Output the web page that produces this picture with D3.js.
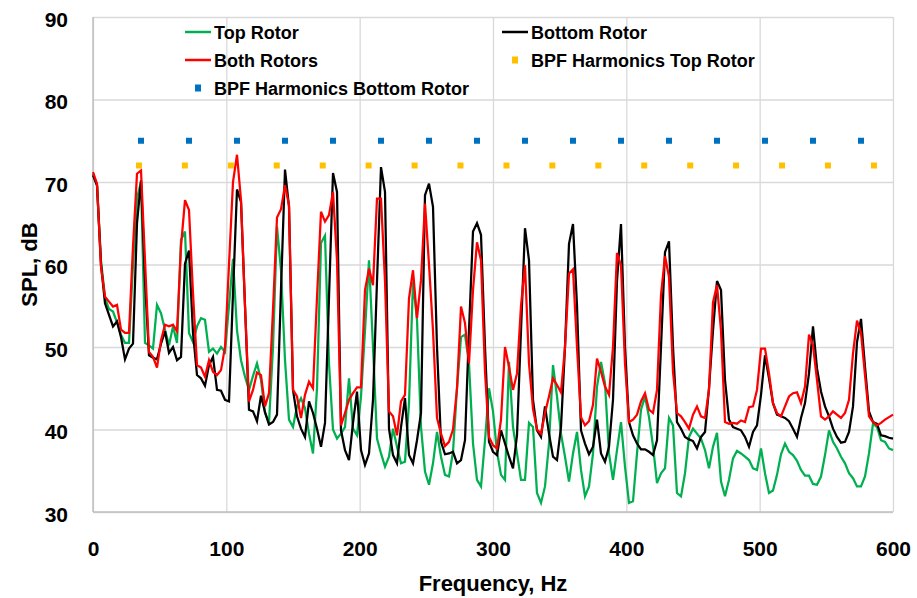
<!DOCTYPE html>
<html>
<head>
<meta charset="utf-8">
<script src="https://cdn.jsdelivr.net/npm/d3@7"></script>
<style>
  body { margin: 0; background: #fff; }
  text { font-family: 'Liberation Sans', Arial, sans-serif; font-weight: bold; fill: #000; }
</style>
</head>
<body>
<div id="app"></div>
<script>
// Frequency grid of the spectra (Hz)
const freqs = [
  0, 3, 6, 9, 12, 15, 18, 21, 24, 27, 30, 33, 36, 39, 42, 45, 48, 51, 54, 57, 60, 63, 66, 69,
  72, 75, 78, 81, 84, 87, 90, 93, 96, 99, 102, 105, 108, 111, 114, 117, 120, 123, 126, 129,
  132, 135, 138, 141, 144, 147, 150, 153, 156, 159, 162, 165, 168, 171, 174, 177, 180, 183,
  186, 189, 192, 195, 198, 201, 204, 207, 210, 213, 216, 219, 222, 225, 228, 231, 234, 237,
  240, 243, 246, 249, 252, 255, 258, 261, 264, 267, 270, 273, 276, 279, 282, 285, 288, 291,
  294, 297, 300, 303, 306, 309, 312, 315, 318, 321, 324, 327, 330, 333, 336, 339, 342, 345,
  348, 351, 354, 357, 360, 363, 366, 369, 372, 375, 378, 381, 384, 387, 390, 393, 396, 399,
  402, 405, 408, 411, 414, 417, 420, 423, 426, 429, 432, 435, 438, 441, 444, 447, 450, 453,
  456, 459, 462, 465, 468, 471, 474, 477, 480, 483, 486, 489, 492, 495, 498, 501, 504, 507,
  510, 513, 516, 519, 522, 525, 528, 531, 534, 537, 540, 543, 546, 549, 552, 555, 558, 561,
  564, 567, 570, 573, 576, 579, 582, 585, 588, 591, 594, 597, 600,
];

// SPL (dB), one value per frequency
const topRotor = [
  71.0, 69.6, 60.5, 56.0, 54.6, 54.3, 53.0, 51.5, 50.5, 50.5, 60.0, 68.0,
  70.0, 50.5, 50.2, 49.8, 55.1, 54.1, 52.1, 50.2, 52.5, 50.5, 63.0, 64.0,
  51.7, 50.6, 52.5, 53.5, 53.3, 49.4, 49.8, 49.2, 50.0, 49.4, 55.0, 60.7,
  52.0, 48.4, 46.4, 44.8, 46.5, 48.0, 46.0, 42.0, 40.8, 50.0, 64.6, 59.3,
  48.4, 41.2, 40.3, 42.8, 43.8, 42.6, 39.5, 37.1, 45.0, 62.6, 63.5, 48.0,
  40.0, 38.9, 39.5, 40.3, 46.2, 40.1, 39.3, 44.0, 52.0, 60.5, 50.0, 38.9,
  37.1, 35.5, 36.7, 40.1, 37.9, 35.9, 36.1, 43.2, 57.9, 53.3, 40.3, 34.9,
  33.3, 35.9, 39.7, 36.7, 34.5, 34.3, 37.3, 45.0, 51.2, 51.5, 48.0, 38.3,
  33.9, 33.1, 38.7, 45.0, 42.2, 37.3, 34.5, 33.9, 48.2, 40.3, 37.1, 33.9,
  33.9, 40.8, 40.3, 32.3, 31.1, 33.1, 38.3, 47.8, 44.0, 39.5, 36.7, 33.7,
  37.1, 39.7, 35.1, 31.9, 33.1, 37.1, 45.2, 48.2, 45.6, 37.1, 33.9, 37.5,
  40.9, 35.5, 31.1, 31.3, 37.1, 42.4, 44.0, 41.5, 38.0, 33.5, 34.7, 35.3,
  41.4, 40.5, 32.3, 31.9, 34.7, 39.1, 40.1, 39.5, 38.9, 37.5, 35.3, 37.9,
  39.6, 33.7, 31.9, 33.9, 36.5, 37.4, 37.1, 36.7, 36.3, 35.3, 35.1, 37.7,
  34.7, 32.3, 32.6, 34.5, 37.0, 38.3, 37.3, 36.9, 36.2, 35.1, 34.4, 34.4,
  33.4, 33.3, 34.3, 36.9, 39.9, 38.5, 37.7, 36.7, 35.9, 34.7, 34.1, 33.1,
  33.1, 34.3, 37.1, 40.7, 40.3, 38.7, 38.5, 37.7, 37.5,
];

const bottomRotor = [
  70.8, 69.6, 60.0, 55.3, 53.9, 52.5, 53.1, 51.2, 48.5, 49.8, 50.4, 65.0,
  70.2, 58.0, 49.0, 48.7, 48.5, 50.4, 51.9, 49.3, 50.0, 48.4, 48.8, 60.1,
  61.7, 51.7, 46.6, 46.2, 45.3, 47.8, 48.8, 44.8, 44.7, 43.6, 43.4, 56.5,
  69.1, 67.6, 55.0, 42.4, 42.2, 41.0, 44.1, 42.1, 40.6, 40.9, 41.8, 57.0,
  71.5, 67.0, 44.8, 41.6, 40.1, 39.1, 43.4, 42.0, 40.1, 37.9, 40.8, 56.0,
  71.1, 68.8, 39.9, 37.5, 36.3, 40.8, 44.6, 37.5, 35.7, 37.1, 43.6, 58.0,
  71.8, 68.8, 40.1, 36.9, 35.9, 40.3, 43.8, 36.9, 35.9, 38.7, 42.0, 68.4,
  69.8, 67.0, 50.0, 38.5, 37.0, 37.1, 37.3, 35.9, 36.3, 38.7, 52.0, 64.0,
  65.0, 63.6, 50.0, 38.5, 37.3, 36.9, 39.9, 38.3, 36.7, 35.3, 39.3, 52.0,
  64.4, 60.5, 43.6, 39.9, 39.1, 42.8, 39.5, 36.7, 36.3, 40.3, 50.0, 62.5,
  64.9, 55.0, 39.9, 38.3, 37.0, 37.9, 41.2, 37.1, 36.1, 37.9, 43.6, 58.0,
  64.9, 50.0, 40.9, 39.3, 38.3, 37.6, 37.6, 37.3, 36.9, 38.7, 50.0, 61.5,
  62.8, 50.0, 40.9, 40.1, 39.1, 38.8, 38.6, 37.7, 39.1, 39.7, 45.0, 52.0,
  58.0, 56.9, 46.0, 41.2, 40.3, 40.1, 39.9, 39.1, 37.9, 39.7, 40.5, 44.2,
  49.0, 46.2, 43.2, 41.8, 41.6, 41.4, 41.0, 40.1, 39.1, 41.4, 43.2, 46.8,
  52.5, 47.4, 44.6, 42.8, 41.6, 40.1, 39.1, 38.4, 38.5, 39.7, 42.8, 50.6,
  53.4, 47.6, 42.2, 40.9, 40.7, 39.3, 39.2, 39.0, 38.9,
];

const bothRotors = [
  71.2, 69.8, 59.7, 56.1, 55.5, 54.9, 55.1, 52.1, 51.7, 51.7, 62.2, 71.0,
  71.4, 60.5, 49.4, 48.8, 47.5, 50.8, 52.7, 52.5, 52.7, 51.9, 62.2, 67.8,
  66.6, 56.5, 47.8, 47.5, 46.4, 48.4, 47.0, 46.6, 47.2, 50.0, 60.0, 70.0,
  73.3, 67.8, 55.0, 43.4, 44.8, 46.9, 46.6, 42.8, 44.4, 54.5, 65.7, 66.7,
  69.6, 67.2, 44.8, 44.0, 41.4, 44.2, 45.8, 45.0, 56.0, 66.4, 65.2, 66.0,
  68.8, 60.5, 40.5, 42.0, 43.6, 44.4, 45.1, 45.1, 56.9, 59.5, 57.5, 68.0,
  68.0, 58.0, 42.2, 41.6, 39.3, 43.4, 44.2, 55.9, 59.3, 53.5, 58.1, 67.4,
  60.0, 52.0, 41.4, 39.5, 38.0, 38.5, 40.0, 45.0, 54.9, 52.9, 48.0, 56.9,
  62.7, 60.5, 47.0, 39.1, 38.1, 37.7, 41.2, 50.0, 47.6, 44.8, 46.8, 55.0,
  59.9, 48.0, 42.5, 40.0, 39.5, 42.0, 44.0, 46.2, 45.4, 44.5, 50.0, 58.9,
  59.4, 50.0, 41.5, 40.5, 41.0, 43.0, 48.6, 47.0, 45.2, 44.2, 50.0, 61.4,
  59.9, 48.0, 40.9, 41.2, 41.8, 43.4, 44.4, 42.4, 42.0, 44.8, 56.3, 61.0,
  58.5, 47.0, 42.0, 41.6, 40.9, 40.1, 41.8, 42.8, 41.6, 41.4, 44.8, 55.4,
  57.5, 52.0, 40.9, 40.7, 40.8, 40.7, 41.1, 40.9, 42.7, 42.8, 44.8, 49.8,
  49.8, 46.8, 43.2, 42.0, 41.6, 42.8, 44.0, 44.4, 44.5, 43.2, 45.2, 51.5,
  50.2, 46.0, 41.6, 41.2, 41.6, 42.2, 41.8, 41.4, 42.0, 43.6, 49.2, 53.2,
  51.7, 46.6, 41.6, 40.9, 40.5, 40.8, 41.2, 41.5, 41.8,
];

// Blade passing frequency harmonics (Hz) and the level they are marked at
const bpfTopRotor = [34.5, 68.9, 103.4, 137.8, 172.3, 206.7, 241.2, 275.6, 310.1,
  344.5, 379, 413.4, 447.9, 482.3, 516.8, 551.2, 585.7];
const bpfTopLevel = 72;
const bpfBottomRotor = [36, 72, 108, 144, 180, 216, 252, 288, 324, 360, 396, 432,
  468, 504, 540, 576];
const bpfBottomLevel = 75;

const xTicks = [0, 100, 200, 300, 400, 500, 600];
const yTicks = [30, 40, 50, 60, 70, 80, 90];

const width = 917;
const height = 598;
const plot = { left: 93, right: 893, top: 17, bottom: 512 };

const svg = d3.select('#app').append('svg')
  .attr('width', width)
  .attr('height', height);

const xScale = d3.scaleLinear().domain([0, 600]).range([plot.left, plot.right]);
const yScale = d3.scaleLinear().domain([30, 90]).range([plot.bottom, plot.top]);

// Gridlines + tick labels through the axes
const yAxis = d3.axisLeft(yScale)
  .tickValues(yTicks)
  .tickSize(-(plot.right - plot.left))
  .tickPadding(25);
const xAxis = d3.axisBottom(xScale)
  .tickValues(xTicks)
  .tickSize(-(plot.bottom - plot.top))
  .tickPadding(29);

const yAxisGroup = svg.append('g')
  .attr('transform', `translate(${plot.left},0)`)
  .call(yAxis);
const xAxisGroup = svg.append('g')
  .attr('transform', `translate(0,${plot.bottom})`)
  .call(xAxis);

[yAxisGroup, xAxisGroup].forEach(g => {
  g.select('.domain').remove();
  g.selectAll('.tick line').attr('stroke', '#d9d9d9').attr('stroke-width', 1.3);
  g.selectAll('.tick text').style('font-size', '21px').attr('fill', '#000');
});
yAxisGroup.selectAll('.tick text').attr('dy', '0.45em');

// axis lines (slightly darker than the grid)
svg.append('line')
  .attr('x1', plot.left).attr('x2', plot.left)
  .attr('y1', plot.top).attr('y2', plot.bottom)
  .attr('stroke', '#bfbfbf').attr('stroke-width', 1.5);
svg.append('line')
  .attr('x1', plot.left).attr('x2', plot.right)
  .attr('y1', plot.bottom).attr('y2', plot.bottom)
  .attr('stroke', '#bfbfbf').attr('stroke-width', 1.5);

// axis titles
svg.append('text')
  .attr('x', (plot.left + plot.right) / 2)
  .attr('y', 591)
  .attr('text-anchor', 'middle')
  .style('font-size', '22px')
  .text('Frequency, Hz');
svg.append('text')
  .attr('transform', `translate(37,${(plot.top + plot.bottom) / 2}) rotate(-90)`)
  .attr('text-anchor', 'middle')
  .style('font-size', '22px')
  .text('SPL, dB');

// series lines
const lineFunc = d3.line()
  .x(d => xScale(d[0]))
  .y(d => yScale(d[1]));

const series = [
  { values: topRotor, color: '#00b050' },
  { values: bottomRotor, color: '#000000' },
  { values: bothRotors, color: '#ff0000' },
];

series.forEach(s => {
  svg.append('path')
    .datum(freqs.map((f, i) => [f, s.values[i]]))
    .attr('fill', 'none')
    .attr('stroke', s.color)
    .attr('stroke-width', 2.25)
    .attr('stroke-linejoin', 'miter')
    .attr('d', lineFunc);
});

// BPF harmonic markers
const markerSize = 6;
svg.append('g')
  .selectAll('rect')
  .data(bpfTopRotor)
  .enter()
  .append('rect')
  .attr('x', d => xScale(d) - markerSize / 2)
  .attr('y', yScale(bpfTopLevel) - markerSize / 2)
  .attr('width', markerSize)
  .attr('height', markerSize)
  .attr('fill', '#ffc000');

svg.append('g')
  .selectAll('rect')
  .data(bpfBottomRotor)
  .enter()
  .append('rect')
  .attr('x', d => xScale(d) - markerSize / 2)
  .attr('y', yScale(bpfBottomLevel) - markerSize / 2)
  .attr('width', markerSize)
  .attr('height', markerSize)
  .attr('fill', '#0070c0');

// legend
const legendItems = [
  { label: 'Top Rotor', type: 'line', color: '#00b050', x: 185, y: 32 },
  { label: 'Bottom Rotor', type: 'line', color: '#000000', x: 502, y: 32 },
  { label: 'Both Rotors', type: 'line', color: '#ff0000', x: 185, y: 60 },
  { label: 'BPF Harmonics Top Rotor', type: 'marker', color: '#ffc000', x: 502, y: 60 },
  { label: 'BPF Harmonics Bottom Rotor', type: 'marker', color: '#0070c0', x: 185, y: 88 },
];

const legend = svg.append('g');
legendItems.forEach(item => {
  if (item.type === 'line') {
    legend.append('line')
      .attr('x1', item.x).attr('x2', item.x + 26)
      .attr('y1', item.y).attr('y2', item.y)
      .attr('stroke', item.color)
      .attr('stroke-width', 2.5);
  } else {
    legend.append('rect')
      .attr('x', item.x + 10)
      .attr('y', item.y - 3.5)
      .attr('width', 6)
      .attr('height', 7)
      .attr('fill', item.color);
  }
  legend.append('text')
    .attr('x', item.x + 29)
    .attr('y', item.y + 6.5)
    .style('font-size', '18px')
    .text(item.label);
});
</script>
</body>
</html>
